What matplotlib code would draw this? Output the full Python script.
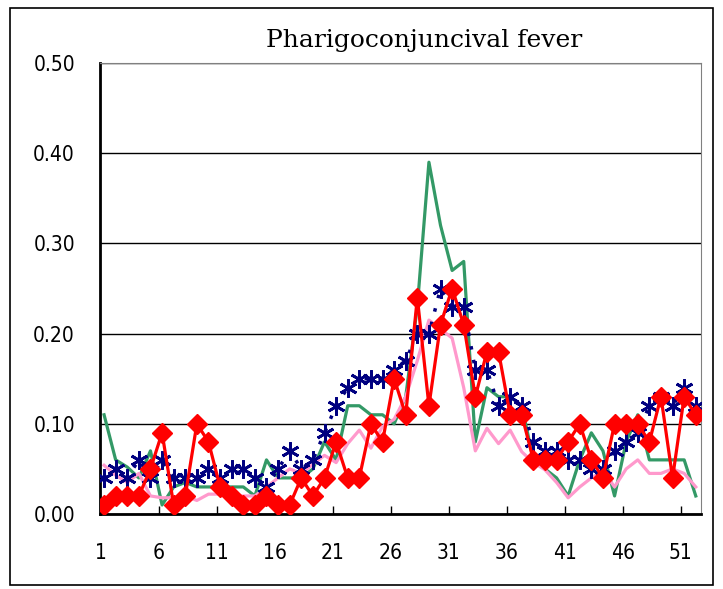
import numpy as np
import matplotlib
matplotlib.use("Agg")
import matplotlib.pyplot as plt
from matplotlib.patches import Rectangle

# weekly values
weeks = np.arange(1, 53)

green = [0.11, 0.06, 0.052, 0.04, 0.07, 0.01, 0.03, 0.035, 0.03, 0.03,
         0.03, 0.03, 0.03, 0.02, 0.06, 0.04, 0.04, 0.04, 0.05, 0.08,
         0.06, 0.12, 0.12, 0.11, 0.11, 0.10, 0.13, 0.23, 0.39, 0.32,
         0.27, 0.28, 0.08, 0.14, 0.13, 0.13, 0.12, 0.06, 0.05, 0.04,
         0.02, 0.06, 0.09, 0.07, 0.02, 0.08, 0.11, 0.06, 0.06, 0.06,
         0.06, 0.02]

navy = [0.04, 0.05, 0.04, 0.06, 0.04, 0.06, 0.04, 0.04, 0.04, 0.05,
        0.04, 0.05, 0.05, 0.04, 0.03, 0.05, 0.07, 0.05, 0.06, 0.09,
        0.12, 0.14, 0.15, 0.15, 0.15, 0.16, 0.17, 0.20, 0.20, 0.25,
        0.23, 0.23, 0.16, 0.16, 0.12, 0.13, 0.12, 0.08, 0.07, 0.07,
        0.06, 0.06, 0.05, 0.05, 0.07, 0.08, 0.09, 0.12, 0.13, 0.12,
        0.14, 0.12]

red = [0.01, 0.02, 0.02, 0.02, 0.05, 0.09, 0.01, 0.02, 0.10, 0.08,
       0.03, 0.02, 0.01, 0.01, 0.02, 0.01, 0.01, 0.04, 0.02, 0.04,
       0.08, 0.04, 0.04, 0.10, 0.08, 0.15, 0.11, 0.24, 0.12, 0.21,
       0.25, 0.21, 0.13, 0.18, 0.18, 0.11, 0.11, 0.06, 0.06, 0.06,
       0.08, 0.10, 0.06, 0.04, 0.10, 0.10, 0.10, 0.08, 0.13, 0.04,
       0.13, 0.11]

pink = [0.054, 0.043, 0.035, 0.045, 0.02, 0.018, 0.018, 0.02, 0.015, 0.022,
        0.022, 0.02, 0.02, 0.02, 0.03, 0.04, 0.05, 0.045, 0.055, 0.065,
        0.057, 0.078, 0.093, 0.073, 0.097, 0.105, 0.13, 0.17, 0.215, 0.205,
        0.195, 0.14, 0.07, 0.095, 0.078, 0.093, 0.069, 0.057, 0.049, 0.035,
        0.018, 0.03, 0.04, 0.048, 0.03, 0.05, 0.06, 0.045, 0.045, 0.05,
        0.045, 0.03]

xlabels = ['1', '6', '11', '16', '21', '26', '31', '36', '41', '46', '51']
ylabels = ['0.00', '0.10', '0.20', '0.30', '0.40', '0.50']

fig = plt.figure(figsize=(7.23, 5.89), dpi=100)
ax = fig.add_axes([100/723, 1-514/589, 601/723, 451/589])

# outer frame
fig.patches.append(Rectangle((10/723, 4/589), 703/723, 577/589,
                             transform=fig.transFigure, fill=False,
                             edgecolor='black', linewidth=1.2))

ax.plot(weeks, green, color='#339966', lw=2.3, zorder=2)
ax.plot(weeks, pink, color='#FF99CC', lw=2.3, zorder=2)
ax.plot(weeks, navy, color='#000080', lw=2.5, ls=(0, (1, 3)),
        marker=(6, 2, 0), ms=13, mew=2, zorder=3)
ax.plot(weeks, red, color='#FF0000', lw=2.3, marker='D', ms=10.5, zorder=4)

ax.set_xlim(0.65, 52.45)
ax.set_ylim(0, 0.5)

ax.set_xticks([int(s) - 0.3 for s in xlabels])
ax.set_xticklabels(xlabels)
ax.set_yticks([float(s) for s in ylabels])
ax.set_yticklabels(ylabels)

ax.tick_params(axis='x', direction='in', length=6, width=1, pad=21,
               labelsize=15)
ax.tick_params(axis='y', length=0, pad=18, labelsize=15)
for lab in ax.get_xticklabels() + ax.get_yticklabels():
    lab.set_fontstretch('condensed')

ax.grid(axis='y', color='black', lw=1)
ax.set_axisbelow(True)

ax.spines['left'].set_linewidth(2)
ax.spines['bottom'].set_linewidth(2)
ax.spines['top'].set_color('#808080')
ax.spines['right'].set_color('#808080')

fig.text(424/723, 1-40/589, 'Pharigoconjuncival fever', family='DejaVu Serif',
         fontsize=18, ha='center', va='center')

plt.savefig('out.png', dpi=100)
